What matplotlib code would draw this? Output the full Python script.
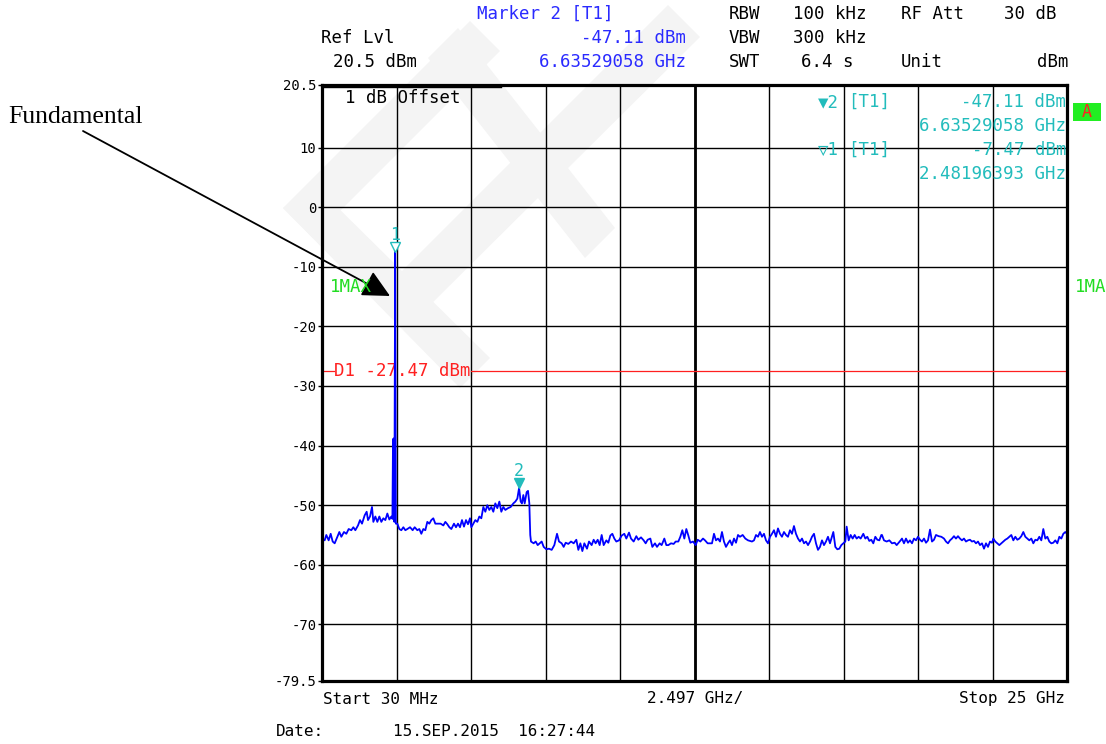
import numpy as np
import matplotlib
matplotlib.use("Agg")
import matplotlib.pyplot as plt
from matplotlib.patches import Rectangle, Polygon
from matplotlib.transforms import offset_copy

W, H = 1106, 744

# Sweep / display settings
start_ghz = 0.03
stop_ghz = 25.0
ref_level_dbm = 20.5
bottom_level_dbm = -79.5
display_line_dbm = -27.47
level_grid_dbm = [10, 0, -10, -20, -30, -40, -50, -60, -70]
level_tick_values = [20.5, 10, 0, -10, -20, -30, -40, -50, -60, -70, -79.5]
level_tick_labels = ["20.5", "10", "0", "-10", "-20", "-30", "-40", "-50",
                     "-60", "-70", "-79.5"]

# Markers
marker_ids = ["1", "2"]
marker_freq_ghz = [2.48196393, 6.63529058]
marker_level_dbm = [-7.47, -47.11]

# Trace below the fundamental
low_freq = [0.03, 0.119, 0.175, 0.253, 0.321, 0.388, 0.455, 0.544, 0.611, 0.678,
            0.767, 0.846, 0.924, 1.013, 1.080, 1.147, 1.237, 1.304, 1.371, 1.460,
            1.527, 1.572, 1.639, 1.706, 1.751, 1.818, 1.885, 1.952, 2.019, 2.086,
            2.153, 2.220, 2.287, 2.354]
low_level = [-55.6, -55.9, -55.0, -55.9, -54.8, -56.1, -56.4, -55.3, -54.5, -55.3,
             -54.5, -54.8, -54.0, -54.2, -53.7, -54.2, -53.4, -52.5, -53.1, -51.7,
             -51.1, -52.5, -51.9, -50.3, -52.8, -51.9, -52.8, -51.9, -52.8, -52.2,
             -52.5, -51.4, -52.4, -51.9]

# Fundamental
fund_freq = [2.39, 2.41, 2.43, 2.455, 2.48196393, 2.505]
fund_level = [-52.3, -39.0, -38.8, -52.8, -7.47, -53.1]

# Between the fundamental and the second harmonic
mid_freq = [2.555, 2.622, 2.689, 2.756, 2.823, 2.890, 2.980, 3.069, 3.136, 3.225,
            3.292, 3.359, 3.426, 3.493, 3.560, 3.627, 3.694, 3.761, 3.828, 3.918,
            4.007, 4.097, 4.164, 4.231, 4.298, 4.365, 4.454, 4.521, 4.588, 4.655,
            4.722, 4.789, 4.856, 4.923, 4.990, 5.035, 5.102, 5.169, 5.236, 5.303,
            5.370, 5.437, 5.504, 5.571, 5.638, 5.705, 5.772, 5.839, 5.906, 5.974,
            6.040, 6.107, 6.175, 6.264, 6.354, 6.443, 6.510, 6.577, 6.63529058, 6.689,
            6.733, 6.778, 6.823, 6.890, 6.935, 6.979]
mid_level = [-53.1, -54.0, -54.2, -53.7, -54.2, -54.0, -53.7, -54.2, -53.7, -54.2,
             -54.0, -54.8, -54.0, -54.2, -52.8, -53.1, -52.5, -52.2, -53.1, -53.1,
             -53.1, -53.4, -52.8, -53.2, -53.7, -54.0, -53.1, -53.7, -53.1, -53.7,
             -52.5, -53.6, -52.5, -53.2, -52.2, -53.7, -53.1, -52.5, -52.8, -51.9,
             -52.2, -50.3, -51.1, -50.0, -50.8, -50.3, -51.1, -49.7, -50.5, -49.4,
             -51.1, -50.3, -50.8, -50.5, -50.3, -49.7, -49.4, -48.9, -47.11, -49.4,
             -49.7, -48.3, -49.7, -47.8, -47.6, -49.7]

# Noise floor, 7 - 13 GHz
floor_a_freq = [7.01, 7.035, 7.124, 7.192, 7.259, 7.326, 7.393, 7.460, 7.549, 7.638,
                7.728, 7.817, 7.907, 7.974, 8.063, 8.130, 8.197, 8.286, 8.376, 8.465,
                8.554, 8.622, 8.689, 8.756, 8.823, 8.912, 8.979, 9.068, 9.135, 9.202,
                9.270, 9.337, 9.404, 9.471, 9.560, 9.627, 9.694, 9.761, 9.828, 9.895,
                9.985, 10.074, 10.163, 10.230, 10.320, 10.387, 10.476, 10.565, 10.632, 10.722,
                10.811, 10.878, 10.945, 11.035, 11.102, 11.191, 11.258, 11.347, 11.414, 11.504,
                11.571, 11.638, 11.727, 11.817, 11.884, 11.973, 12.040, 12.107, 12.174, 12.241,
                12.309, 12.375, 12.465, 12.554, 12.621, 12.711, 12.800, 12.867, 12.956]
floor_a_level = [-55.0, -56.1, -56.4, -56.1, -56.7, -56.4, -56.1, -57.0, -57.4, -57.3,
                 -57.5, -56.7, -54.8, -56.1, -56.4, -57.0, -56.3, -56.5, -56.1, -56.4,
                 -55.8, -57.5, -56.4, -57.7, -56.4, -57.3, -56.1, -56.7, -55.8, -56.4,
                 -55.8, -56.7, -55.0, -56.7, -55.9, -56.3, -55.1, -54.8, -55.6, -56.1,
                 -55.9, -55.1, -54.8, -55.6, -54.6, -55.6, -56.1, -55.2, -55.8, -55.4,
                 -55.9, -56.4, -55.8, -55.6, -57.0, -56.4, -57.0, -56.4, -56.7, -55.6,
                 -56.7, -56.7, -56.4, -56.5, -56.1, -56.1, -55.3, -54.2, -55.6, -54.0,
                 -55.1, -56.3, -56.1, -56.7, -55.8, -56.1, -55.6, -55.9, -56.4]

# Noise floor, 13 - 18.8 GHz
floor_b_freq = [13.101, 13.168, 13.235, 13.302, 13.369, 13.436, 13.503, 13.570, 13.637, 13.704,
                13.771, 13.839, 13.906, 13.973, 14.040, 14.129, 14.218, 14.308, 14.375, 14.442,
                14.509, 14.576, 14.643, 14.710, 14.777, 14.844, 14.911, 14.978, 15.045, 15.112,
                15.179, 15.246, 15.313, 15.380, 15.447, 15.514, 15.581, 15.648, 15.715, 15.782,
                15.849, 15.916, 15.984, 16.051, 16.118, 16.185, 16.252, 16.319, 16.386, 16.453,
                16.520, 16.587, 16.654, 16.721, 16.788, 16.855, 16.922, 16.989, 17.056, 17.123,
                17.168, 17.235, 17.302, 17.369, 17.436, 17.503, 17.570, 17.615, 17.682, 17.749,
                17.816, 17.883, 17.950, 18.017, 18.084, 18.173, 18.240, 18.307, 18.374, 18.441,
                18.508, 18.575, 18.643, 18.710, 18.777]
floor_b_level = [-56.4, -54.8, -55.9, -55.6, -56.1, -54.5, -56.1, -57.0, -56.4, -55.9,
                 -56.7, -55.6, -56.3, -55.0, -55.3, -55.0, -55.6, -55.9, -56.0, -56.1,
                 -55.9, -55.0, -55.3, -54.5, -55.3, -54.8, -55.9, -56.4, -55.3, -54.8,
                 -54.2, -55.3, -53.9, -54.8, -55.3, -54.5, -55.0, -55.3, -54.2, -54.8,
                 -53.5, -54.8, -55.6, -56.1, -55.6, -56.4, -56.1, -56.7, -56.1, -55.3,
                 -54.8, -56.4, -57.5, -57.0, -55.9, -56.7, -56.1, -55.3, -56.4, -55.3,
                 -54.5, -57.0, -57.4, -57.3, -56.7, -56.4, -56.1, -53.6, -55.9, -55.0,
                 -55.6, -55.0, -55.6, -55.3, -55.6, -54.8, -55.6, -55.3, -56.0, -55.8,
                 -56.4, -55.3, -55.8, -55.9, -55.0]

# Noise floor, 18.8 - 25 GHz
floor_c_freq = [18.799, 18.866, 18.955, 19.045, 19.134, 19.224, 19.291, 19.358, 19.425, 19.469,
                19.536, 19.603, 19.670, 19.737, 19.805, 19.872, 19.939, 20.006, 20.073, 20.140,
                20.207, 20.274, 20.341, 20.408, 20.475, 20.542, 20.609, 20.698, 20.788, 20.877,
                20.944, 21.011, 21.078, 21.145, 21.212, 21.279, 21.346, 21.413, 21.480, 21.547,
                21.614, 21.681, 21.748, 21.815, 21.882, 21.950, 22.017, 22.084, 22.151, 22.218,
                22.285, 22.352, 22.419, 22.486, 22.530, 22.597, 22.664, 22.732, 22.799, 22.866,
                22.933, 23.000, 23.067, 23.134, 23.201, 23.268, 23.335, 23.402, 23.469, 23.536,
                23.603, 23.670, 23.737, 23.804, 23.871, 23.938, 24.005, 24.072, 24.139, 24.206,
                24.273, 24.340, 24.407, 24.474, 24.541, 24.608, 24.676, 24.743, 24.810, 24.877,
                24.944, 25.0]
floor_c_level = [-55.0, -55.9, -56.1, -55.9, -56.4, -56.3, -56.7, -56.3, -55.9, -55.6,
                 -56.4, -55.6, -56.3, -55.9, -56.4, -55.6, -55.9, -55.3, -55.8, -56.1,
                 -55.6, -56.3, -55.9, -54.1, -56.1, -55.8, -55.0, -55.2, -55.3, -55.6,
                 -56.1, -56.4, -55.9, -55.6, -55.2, -55.6, -55.2, -55.6, -55.9, -55.6,
                 -56.1, -55.9, -55.8, -56.1, -56.0, -56.4, -56.1, -56.7, -56.4, -57.3,
                 -56.4, -57.0, -56.1, -56.3, -55.6, -56.1, -56.4, -56.7, -56.4, -56.1,
                 -55.8, -55.6, -55.3, -55.0, -55.9, -55.3, -55.8, -55.6, -55.2, -54.5,
                 -55.3, -55.6, -55.9, -55.6, -56.4, -55.8, -55.9, -55.3, -55.9, -54.0,
                 -55.6, -55.3, -56.1, -56.4, -56.3, -55.9, -56.4, -55.3, -55.6, -54.8,
                 -54.5, -54.8]

trace_freq = np.concatenate([low_freq, fund_freq, mid_freq,
                             floor_a_freq, floor_b_freq, floor_c_freq])
trace_level = np.concatenate([low_level, fund_level, mid_level,
                              floor_a_level, floor_b_level, floor_c_level])

# Colours
TRACE = "#0000ff"
BLUE_TXT = "#2a2aff"
CYAN = "#22bcbc"
GREEN = "#22dd22"
RED = "#ff2020"
SHADE = "#f4f4f4"
MONO = "DejaVu Sans Mono"

fig = plt.figure(figsize=(W / 100, H / 100), dpi=100)
fig.patch.set_facecolor("white")


def fx(x):
    return x / W


def fy(y):
    return 1 - y / H


def ftext(x, y, s, ha="left", color="black", size=12.5, family=MONO, **kw):
    fig.text(fx(x), fy(y), s, ha=ha, va="center", color=color, fontsize=size,
             family=family, **kw)


def shade(points):
    fig.patches.append(Polygon([(fx(x), fy(y)) for x, y in points], closed=True,
                               transform=fig.transFigure, facecolor=SHADE,
                               edgecolor="none", zorder=-1))


# Faint background emblem behind the graticule
shade([(283, 208), (470, 21), (500, 51), (313, 238)])
shade([(283, 208), (318, 188), (490, 358), (460, 388)])
shade([(383, 290), (668, 5), (700, 37), (413, 322)])
shade([(428, 58), (458, 28), (615, 228), (585, 258)])

ax = fig.add_axes([fx(322), fy(681), (1067 - 322) / W, (681 - 85) / H])
ax.set_facecolor("none")
ax.set_xlim(start_ghz, stop_ghz)
ax.set_ylim(bottom_level_dbm, ref_level_dbm)

# Graticule: 10 frequency divisions, 10 dB level lines
div_freqs = np.linspace(start_ghz, stop_ghz, 11)
ax.set_xticks(div_freqs)
ax.set_xticklabels([])
ax.tick_params(axis="x", length=0)
ax.set_yticks(level_tick_values)
ax.set_yticklabels(level_tick_labels, family=MONO, fontsize=10)
ax.tick_params(axis="y", length=3, width=1, pad=1, color="black")
for f in div_freqs[1:-1]:
    ax.axvline(f, color="black", lw=1.0, zorder=1)
ax.axvline(div_freqs[5], color="black", lw=2.0, zorder=1)
for lv in level_grid_dbm:
    ax.axhline(lv, color="black", lw=1.0, zorder=1)
for sp in ax.spines.values():
    sp.set_linewidth(2.3)
    sp.set_zorder(5)

# Display line D1, broken where its label sits
ax.axhline(display_line_dbm, xmin=0.0, xmax=0.016, color=RED, lw=0.9, zorder=2)
ax.axhline(display_line_dbm, xmin=0.2, xmax=1.0, color=RED, lw=0.9, zorder=2)
ax.text(0.0165, display_line_dbm, "D1 %.2f dBm" % display_line_dbm, color=RED,
        family=MONO, fontsize=12.5, va="center", ha="left", zorder=2,
        transform=ax.get_yaxis_transform())

# Trace
ax.plot(trace_freq, trace_level, color=TRACE, lw=1.3, zorder=3,
        solid_joinstyle="round")

# Markers
for mid, mf, ml in zip(marker_ids, marker_freq_ghz, marker_level_dbm):
    tr = offset_copy(ax.transData, fig=fig, x=0, y=5, units="dots")
    face = "white" if mid == "1" else CYAN
    ax.plot([mf], [ml], marker="v", ms=7.5, mfc=face, mec=CYAN, mew=1.0,
            transform=tr, zorder=4, clip_on=False)
    ax.annotate(mid, (mf, ml), xytext=(0, 17), textcoords="offset pixels",
                ha="center", va="center", color=CYAN, fontsize=12, family=MONO,
                zorder=4)

# Trace / detector labels
ftext(330, 287, "1MAX", color=GREEN)
ftext(1075, 287, "1MA", color=GREEN)
fig.patches.append(Rectangle((fx(1073), fy(121)), 28 / W, 18 / H,
                             transform=fig.transFigure, facecolor="#22ee22",
                             edgecolor="none"))
ftext(1087, 112, "A", ha="center", color=RED, size=12)

# Offset box inside the graticule
ax.plot([0.0, 0.24], [0.996, 0.996], transform=ax.transAxes, color="black",
        lw=1.0, zorder=5)
ftext(345, 98, "1 dB Offset")

# Header
ftext(477, 14, "Marker 2 [T1]", color=BLUE_TXT)
ftext(321, 38, "Ref Lvl")
ftext(686, 38, "%.2f dBm" % marker_level_dbm[1], ha="right", color=BLUE_TXT)
ftext(333, 62, "%.1f dBm" % ref_level_dbm)
ftext(686, 62, "%.8f GHz" % marker_freq_ghz[1], ha="right", color=BLUE_TXT)
ftext(729, 14, "RBW")
ftext(793, 14, "100 kHz")
ftext(901, 14, "RF Att")
ftext(1057, 14, "30 dB", ha="right")
ftext(729, 38, "VBW")
ftext(793, 38, "300 kHz")
ftext(729, 62, "SWT")
ftext(801, 62, "6.4 s")
ftext(901, 62, "Unit")
ftext(1068, 62, "dBm", ha="right")

# Marker readout table
ftext(818, 102, "\u25bc2", color=CYAN)
ftext(848, 102, "[T1]", color=CYAN)
ftext(1066, 102, "%.2f dBm" % marker_level_dbm[1], ha="right", color=CYAN)
ftext(1066, 126, "%.8f GHz" % marker_freq_ghz[1], ha="right", color=CYAN)
ftext(818, 150, "\u25bd1", color=CYAN)
ftext(848, 150, "[T1]", color=CYAN)
ftext(1066, 150, "%.2f dBm" % marker_level_dbm[0], ha="right", color=CYAN)
ftext(1066, 174, "%.8f GHz" % marker_freq_ghz[0], ha="right", color=CYAN)

# Footer
ftext(323, 699, "Start 30 MHz", size=11.5)
ftext(695, 699, "2.497 GHz/", ha="center", size=11.5)
ftext(1065, 699, "Stop 25 GHz", ha="right", size=11.5)
ftext(276, 732, "Date:", size=11.5)
ftext(393, 732, "15.SEP.2015  16:27:44", size=11.5)

# Annotation of the fundamental
fig.text(fx(8), fy(117), "Fundamental", ha="left", va="center",
         family="Liberation Serif", fontsize=18.5, color="black")
ax.annotate("", xy=(390, H - 296), xycoords="figure pixels",
            xytext=(83, H - 131), textcoords="figure pixels",
            arrowprops=dict(arrowstyle="-|>,head_length=0.6,head_width=0.3",
                            mutation_scale=28, color="black", lw=1.3,
                            shrinkA=0, shrinkB=0),
            annotation_clip=False)

fig.savefig("out.png", dpi=100, facecolor="white")
